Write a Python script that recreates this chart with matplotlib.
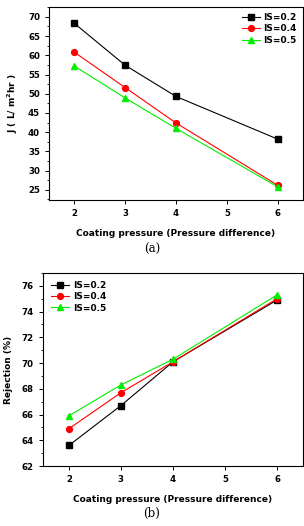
import matplotlib

matplotlib.use("Agg")
import matplotlib.pyplot as plt
from matplotlib.ticker import MultipleLocator

PRESSURE = [2, 3, 4, 6]
SERIES = ["IS=0.2", "IS=0.4", "IS=0.5"]

FLUX_02 = [68.3, 57.4, 49.3, 38.2]
FLUX_04 = [60.8, 51.6, 42.4, 26.2]
FLUX_05 = [57.2, 48.9, 41.0, 25.8]

REJ_02 = [63.6, 66.7, 70.1, 74.9]
REJ_04 = [64.9, 67.7, 70.1, 75.0]
REJ_05 = [65.9, 68.3, 70.3, 75.3]

COLORS = ["black", "red", "#00ee00"]
MARKERS = ["s", "o", "^"]

plt.rcParams["font.family"] = "DejaVu Sans"


def style_axes(ax, ymin, ymax, ystep):
    ax.set_xlim(1.5, 6.5)
    ax.set_ylim(ymin, ymax)
    ax.xaxis.set_major_locator(MultipleLocator(1))
    ax.yaxis.set_major_locator(MultipleLocator(ystep))
    ax.yaxis.set_minor_locator(MultipleLocator(ystep / 2))
    ax.tick_params(axis="both", which="major", labelsize=6.2, length=3, width=0.7, direction="out")
    ax.tick_params(axis="both", which="minor", length=1.8, width=0.6, direction="out")
    for lbl in ax.get_xticklabels() + ax.get_yticklabels():
        lbl.set_fontweight("bold")
    for sp in ax.spines.values():
        sp.set_linewidth(0.8)
    ax.set_xlabel("Coating pressure (Pressure difference)", fontsize=6.5, fontweight="bold", labelpad=8)


fig = plt.figure(figsize=(3.04, 5.26), dpi=100)

ax1 = fig.add_axes([0.161, 0.620, 0.836, 0.367])
for vals, name, c, m in zip([FLUX_02, FLUX_04, FLUX_05], SERIES, COLORS, MARKERS):
    ax1.plot(PRESSURE, vals, color=c, marker=m, markersize=4.2, linewidth=0.8, label=name)
style_axes(ax1, 22.4, 72.6, 5)
ax1.set_ylabel("J ( L/ m$^\\mathbf{2}$hr )", fontsize=6.5, fontweight="bold", labelpad=6)
ax1.legend(loc="upper right", frameon=False, handlelength=2.0,
           handletextpad=0.4, labelspacing=0.25, borderaxespad=0.3,
           prop={"weight": "bold", "size": 6.5})
fig.text(0.5, 0.526, "(a)", ha="center", va="center", family="DejaVu Serif", fontsize=8.5)

ax2 = fig.add_axes([0.141, 0.114, 0.856, 0.367])
for vals, name, c, m in zip([REJ_02, REJ_04, REJ_05], SERIES, COLORS, MARKERS):
    ax2.plot(PRESSURE, vals, color=c, marker=m, markersize=4.2, linewidth=0.8, label=name)
style_axes(ax2, 62, 77, 2)
ax2.set_ylabel("Rejection (%)", fontsize=6.5, fontweight="bold", labelpad=6)
ax2.legend(loc="upper left", frameon=False, handlelength=2.0,
           handletextpad=0.4, labelspacing=0.25, borderaxespad=0.5,
           prop={"weight": "bold", "size": 6.5})
fig.text(0.5, 0.023, "(b)", ha="center", va="center", family="DejaVu Serif", fontsize=8.5)

fig.savefig("out.png", dpi=100)
